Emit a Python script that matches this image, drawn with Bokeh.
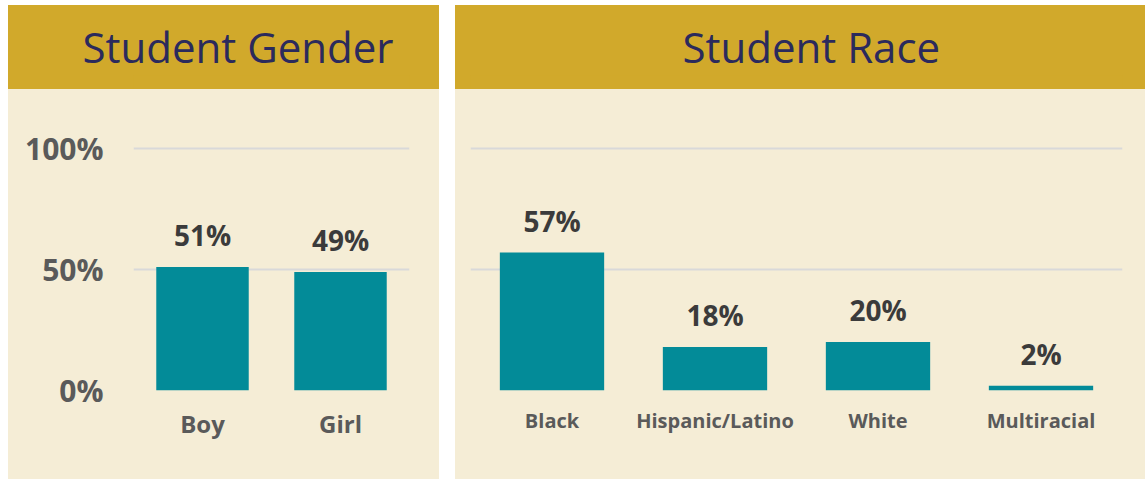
from bokeh.plotting import figure
from bokeh.models import Range1d, FactorRange, FixedTicker, PrintfTickFormatter, ColumnDataSource
from bokeh.layouts import row, column
from bokeh.core.properties import value
from bokeh.embed import file_html
from bokeh.resources import INLINE

# ---- data ----
gender_title = "Student Gender"
gender_cats = ["Boy", "Girl"]
gender_vals = [51, 49]

race_title = "Student Race"
race_cats = ["Black", "Hispanic/Latino", "White", "Multiracial"]
race_vals = [57, 18, 20, 2]

y_ticks = [0, 50, 100]

# ---- style ----
GOLD = "#D1A92B"
CREAM = "#F5EDD6"
TEAL = "#038B98"
NAVY = "#2B2A5C"
GRID = "#D9D9D9"
LABEL = "#3B3B3B"
AXIS = "#5A5A5A"
FONT = "Open Sans"

HDR_H = 84
CHART_H = 390
TOP_B = 30
BOT_B = 89
Y_END = 100 * (CHART_H - TOP_B - BOT_B) / 242.0


def header(title, width, left, right, off):
    h = figure(width=width, height=HDR_H, x_range=Range1d(0, 1), y_range=Range1d(0, 1),
               output_backend="svg", toolbar_location=None,
               x_axis_location=None, y_axis_location=None,
               min_border_left=left, min_border_right=right,
               min_border_top=70, min_border_bottom=0,
               outline_line_color=None, title=title, title_location="above",
               background_fill_color=GOLD, border_fill_color=None,
               styles={"background-color": GOLD})
    h.grid.visible = False
    t = h.title
    t.text_font = FONT
    t.text_font_size = "42px"
    t.text_font_style = "normal"
    t.text_color = NAVY
    t.align = "left"
    t.offset = off
    t.standoff = 2
    return h


def chart(cats, vals, width, left, right, bar_w, cat_size, show_y):
    src = ColumnDataSource(dict(cat=cats, val=vals, lab=[f"{v}%" for v in vals]))
    p = figure(width=width, height=CHART_H, x_range=FactorRange(*cats, range_padding=0),
               y_range=Range1d(0, Y_END), output_backend="svg", toolbar_location=None,
               min_border_left=left, min_border_right=right,
               min_border_top=TOP_B, min_border_bottom=BOT_B,
               outline_line_color=None, background_fill_color=CREAM, border_fill_color=None,
               styles={"background-color": CREAM})
    p.xgrid.visible = False
    p.ygrid.ticker = FixedTicker(ticks=y_ticks)
    p.ygrid.grid_line_color = GRID
    p.ygrid.grid_line_width = 2
    p.vbar(x="cat", top="val", bottom=0, width=bar_w, source=src,
           fill_color=TEAL, line_color=None)
    p.text(x="cat", y="val", text="lab", source=src, text_align="center",
           text_baseline="alphabetic", y_offset=-32,
           text_font=value(FONT), text_font_style="bold", text_font_size="28px",
           text_color=LABEL)
    xa = p.xaxis[0]
    xa.axis_line_color = None
    xa.major_tick_line_color = None
    xa.minor_tick_line_color = None
    xa.major_tick_out = 0
    xa.major_tick_in = 0
    xa.major_label_standoff = 16
    xa.major_label_text_font = FONT
    xa.major_label_text_font_style = "bold"
    xa.major_label_text_font_size = cat_size
    xa.major_label_text_color = AXIS
    ya = p.yaxis[0]
    if show_y:
        ya.ticker = FixedTicker(ticks=y_ticks)
        ya.formatter = PrintfTickFormatter(format="%d%%")
        ya.axis_line_color = None
        ya.major_tick_line_color = None
        ya.minor_tick_line_color = None
        ya.major_tick_out = 0
        ya.major_tick_in = 0
        ya.major_label_standoff = 30
        ya.major_label_text_font = FONT
        ya.major_label_text_font_style = "bold"
        ya.major_label_text_font_size = "30px"
        ya.major_label_text_color = AXIS
    else:
        ya.visible = False
    return p


left_w = 431
right_w = 690
h1 = header(gender_title, left_w, 125, 30, -51)
c1 = chart(gender_cats, gender_vals, left_w, 125, 30, 0.67, "24px", True)
h2 = header(race_title, right_w, 15, 23, 212)
c2 = chart(race_cats, race_vals, right_w, 15, 23, 0.64, "20px", False)

layout = row(column(h1, c1, spacing=0), column(h2, c2, spacing=0), spacing=16,
             margin=(5, 0, 0, 8))

open("out.html", "w").write(file_html(layout, INLINE))
